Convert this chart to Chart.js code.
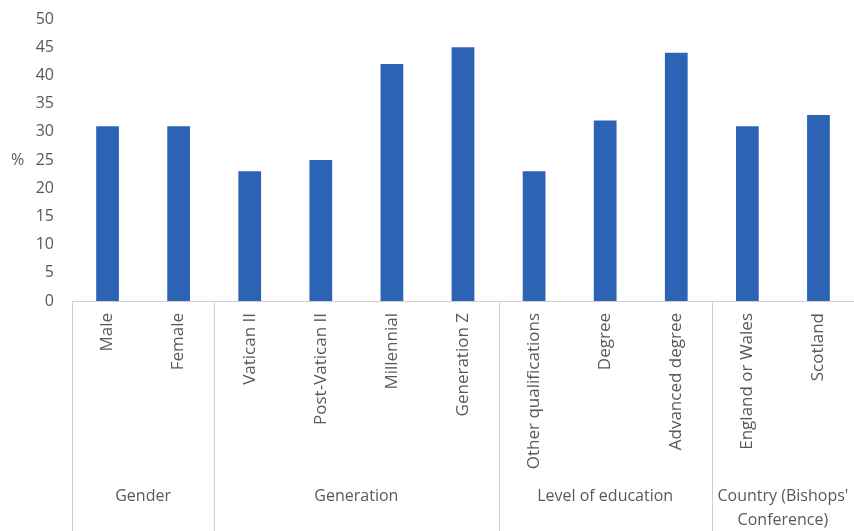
<!DOCTYPE html>
<html>
<head>
<meta charset="utf-8">
<script src="https://cdn.jsdelivr.net/npm/chart.js@4"></script>
<style>
  html, body { margin: 0; padding: 0; background: #fff; overflow: hidden; }
  #wrap { width: 854px; height: 531px; }
</style>
</head>
<body>
<div id="wrap"><canvas id="chart" width="854" height="531"></canvas></div>
<script>
// Categories, grouped in the order they sit on the axis
const categories = ['Male', 'Female', 'Vatican II', 'Post-Vatican II', 'Millennial', 'Generation Z',
  'Other qualifications', 'Degree', 'Advanced degree', 'England or Wales', 'Scotland'];
const values = [31, 31, 23, 25, 42, 45, 23, 32, 44, 31, 33];
const groupNames = ['Gender', 'Generation', 'Level of education', ["Country (Bishops'", 'Conference)']];
const groupSizes = [2, 4, 3, 2];
const yTicks = [0, 5, 10, 15, 20, 25, 30, 35, 40, 45, 50];

const textColor = '#595959';
const lineColor = '#d0d0d0';
const fontFamily = '"Open Sans", "Liberation Sans", sans-serif';

// Second row of the category axis: group names and the dividers between groups
const groupAxis = {
  id: 'groupAxis',
  afterDraw(chart) {
    const ctx = chart.ctx;
    const x = chart.scales.x;
    const area = chart.chartArea;
    const bottom = chart.height;
    const half = (x.getPixelForValue(1) - x.getPixelForValue(0)) / 2;

    ctx.save();
    ctx.strokeStyle = lineColor;
    ctx.lineWidth = 1;
    ctx.fillStyle = textColor;
    ctx.font = '16px ' + fontFamily;
    ctx.textAlign = 'center';
    ctx.textBaseline = 'middle';

    let start = 0;
    groupSizes.forEach((n, g) => {
      const left = x.getPixelForValue(start) - half;
      const right = x.getPixelForValue(start + n - 1) + half;
      const lx = Math.round(left) + 0.5;
      ctx.beginPath();
      ctx.moveTo(lx, area.bottom);
      ctx.lineTo(lx, bottom);
      ctx.stroke();
      const lines = [].concat(groupNames[g]);
      const cx = (left + right) / 2;
      lines.forEach((t, i) => ctx.fillText(t, cx, 496 + i * 24));
      start += n;
    });

    // unit label beside the value axis
    ctx.textAlign = 'left';
    ctx.fillText('%', 11, chart.scales.y.getPixelForValue(25));
    ctx.restore();
  }
};

new Chart(document.getElementById('chart'), {
  type: 'bar',
  data: {
    labels: categories,
    datasets: [{
      data: values,
      backgroundColor: '#2d63b5',
      borderWidth: 0,
      barPercentage: 0.32,
      categoryPercentage: 1
    }]
  },
  options: {
    responsive: false,
    animation: false,
    layout: { padding: { top: 19, right: 0, left: 0, bottom: 0 } },
    plugins: {
      legend: { display: false },
      tooltip: { enabled: false }
    },
    scales: {
      x: {
        grid: { display: false, drawTicks: false },
        border: { display: true, color: lineColor, width: 1 },
        ticks: {
          color: textColor,
          font: { size: 17, family: fontFamily },
          minRotation: 90,
          maxRotation: 90,
          autoSkip: false,
          padding: 12
        },
        afterFit(scale) { scale.height = 230; }
      },
      y: {
        min: 0,
        max: 50,
        afterBuildTicks(scale) { scale.ticks = yTicks.map(v => ({ value: v })); },
        grid: { display: false, drawTicks: false },
        border: { display: false },
        ticks: {
          color: textColor,
          font: { size: 16, family: fontFamily },
          padding: 18
        },
        afterFit(scale) {
          scale.width = 72;
          scale.paddingTop = 0;
          scale.paddingBottom = 0;
        }
      }
    }
  },
  plugins: [groupAxis]
});
</script>
</body>
</html>
